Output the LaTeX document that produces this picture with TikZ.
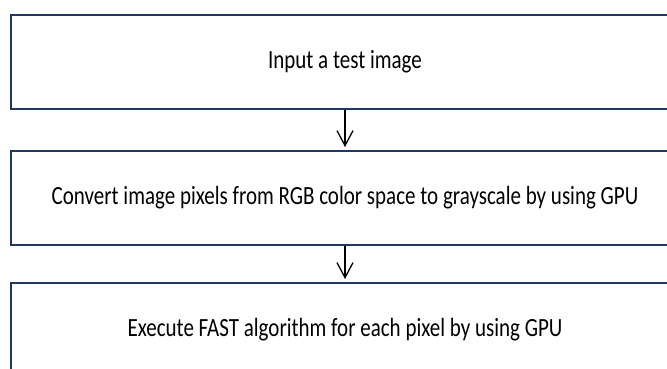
\documentclass[tikz,border=0pt]{standalone}
\usepackage{fontspec}
\setmainfont{Carlito}
\usetikzlibrary{arrows.meta}
\definecolor{boxblue}{HTML}{1F3864}
\tikzset{
  stepbox/.style={draw=boxblue, line width=2pt, minimum width=668pt, minimum height=94pt, inner sep=0pt, font=\fontsize{21}{25}\selectfont},
  arr/.style={draw=black, line width=1.3pt, -{Straight Barb[length=15pt,width=16pt,line width=1.3pt]}, shorten >=3pt}
}
\newcommand{\stretchtxt}[1]{\scalebox{1}[1.25]{#1}}
\begin{document}
\begin{tikzpicture}[x=1pt,y=-1pt]
\useasboundingbox (0,0) rectangle (667,369);
\clip (0,0) rectangle (667,369);
\node[stepbox] (b1) at (345,62) {\stretchtxt{Input a test image}};
\node[stepbox] (b2) at (345,198) {\stretchtxt{Convert image pixels from RGB color space to grayscale by using GPU}};
\node[stepbox] (b3) at (345,330) {\stretchtxt{Execute FAST algorithm for each pixel by using GPU}};
\draw[arr] (b1.south) -- (b2.north);
\draw[arr] (b2.south) -- (b3.north);
\end{tikzpicture}
\end{document}
